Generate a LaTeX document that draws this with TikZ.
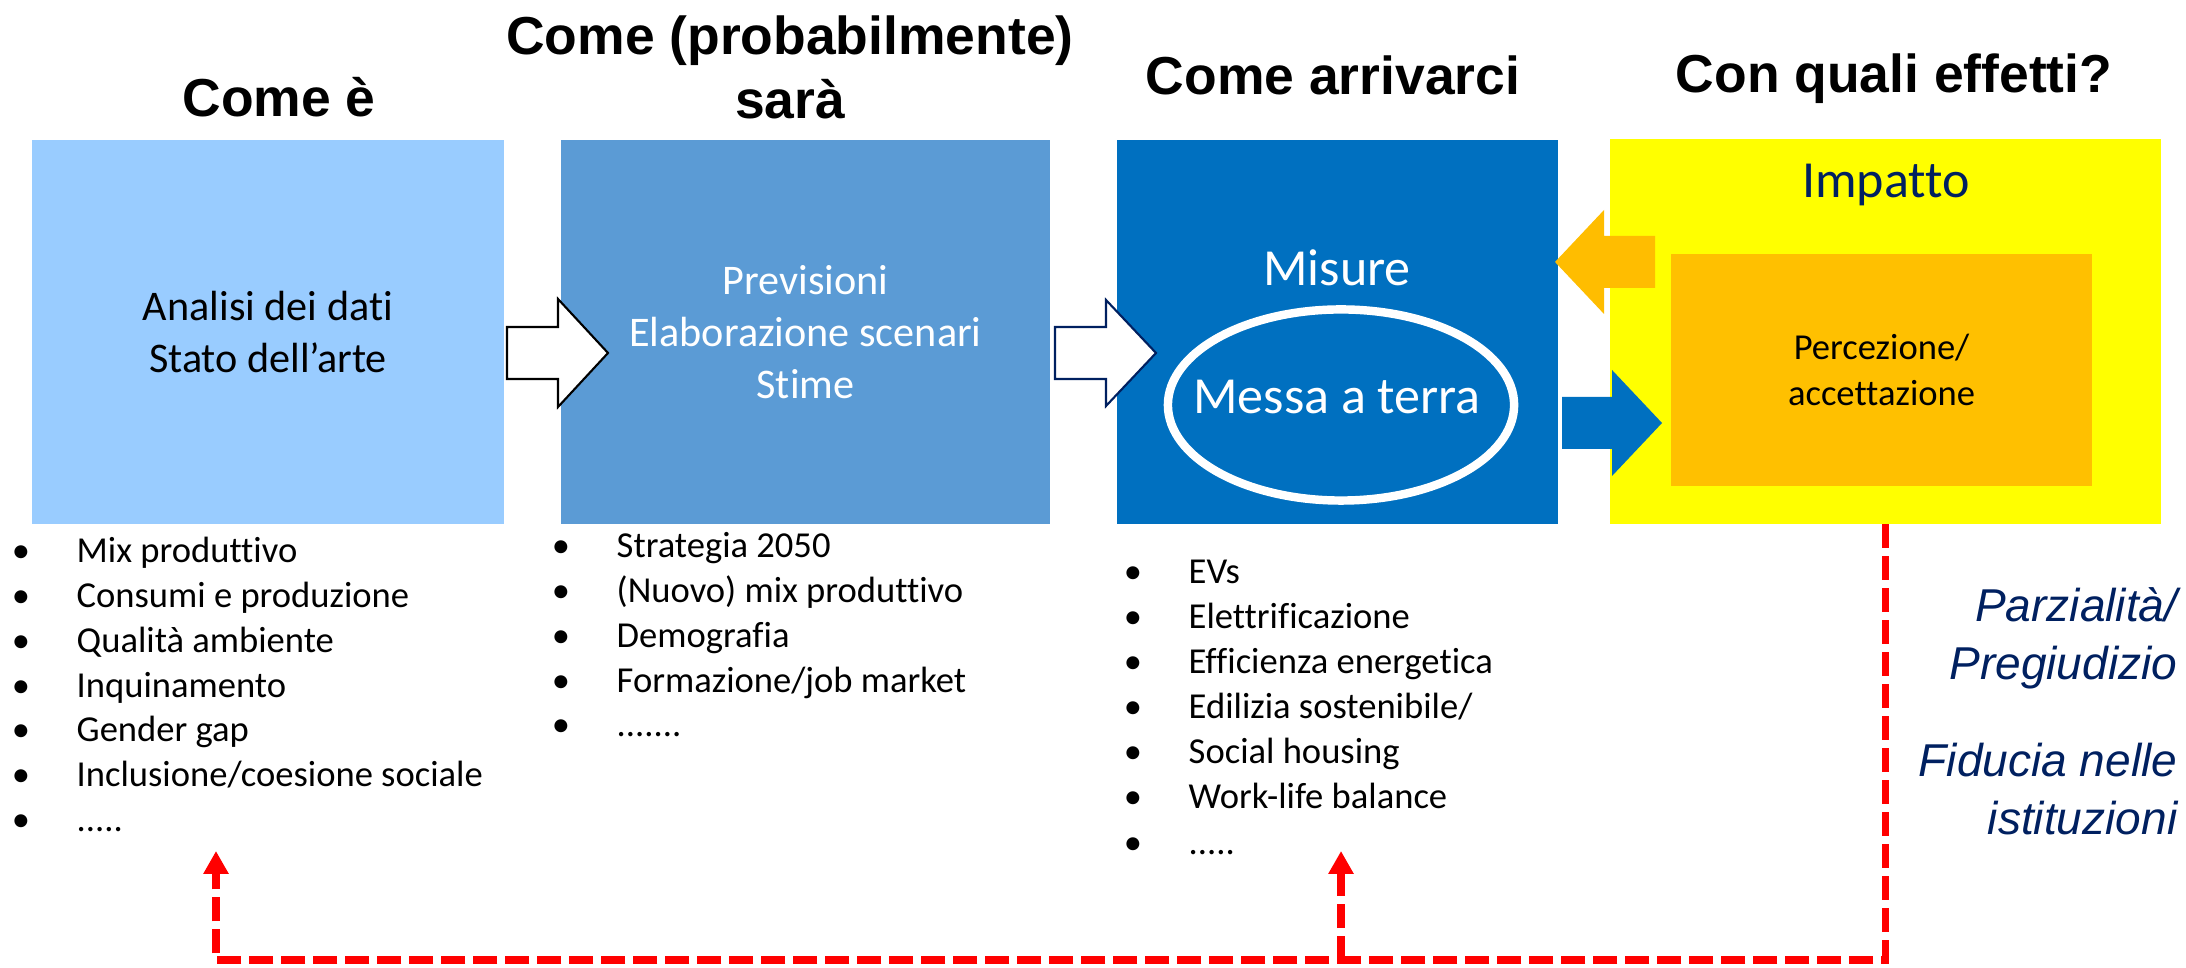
\documentclass[tikz,border=0pt]{standalone}
\usepackage{fontspec}
\setmainfont{Carlito}[Ligatures=NoCommon]
\newfontfamily\headfont{Liberation Sans}
\usetikzlibrary{arrows.meta,shapes.geometric}

\definecolor{nowblue}{HTML}{99CCFF}
\definecolor{nextblue}{HTML}{5B9BD5}
\definecolor{wayblue}{HTML}{0070C0}
\definecolor{effyellow}{HTML}{FFFF00}
\definecolor{effamber}{HTML}{FFC000}
\definecolor{navy}{HTML}{002060}

\begin{document}
\begin{tikzpicture}[x=0.01cm, y=-0.01cm, >={Triangle[length=6.5pt,width=6.8pt]},
  head/.style={font=\headfont\bfseries\fontsize{15.2}{18.2}\selectfont, align=center, inner sep=0pt, anchor=base},
  block/.style={inner sep=0pt, outer sep=0pt, minimum height=3.84cm},
  item/.style={font=\fontsize{10.4}{12.8}\selectfont, inner sep=0pt, anchor=base west},
  dot/.style={font=\fontsize{10.4}{12.8}\selectfont, inner sep=0pt, anchor=base},
  note/.style={font=\headfont\itshape\fontsize{13.1}{16.5}\selectfont, text=navy, align=right, inner sep=0pt, anchor=base east},
  feedback/.style={red, line width=2.1pt, dash pattern=on 6.8pt off 2.3pt}]
  \useasboundingbox (0,0) rectangle (2186,968);

  % headings
  \node[head] (h1) at (279,117) {Come è};
  \node[head] (h2) at (790,119) {Come (probabilmente)\\sarà};
  \node[head] (h3) at (1333,95) {Come arrivarci};
  \node[head] (h4) at (1894,93) {Con quali effetti?};

  % the four blocks
  \node[block, fill=nowblue, minimum width=4.72cm, font=\fontsize{12}{14.8}\selectfont, align=center] (now) at (268,332) {Analisi dei dati\\Stato dell’arte};
  \node[block, fill=nextblue, minimum width=4.89cm, text=white, font=\fontsize{12}{14.8}\selectfont, align=center] (next) at (805.5,332) {Previsioni\\Elaborazione scenari\\Stime};
  \node[block, fill=wayblue, minimum width=4.41cm] (way) at (1337.5,332) {};
  \node[block, fill=effyellow, minimum width=5.51cm, minimum height=3.85cm] (eff) at (1885.5,331.5) {};

  \node[text=white, font=\fontsize{14.8}{17}\selectfont, inner sep=0pt, anchor=base] (misure) at (1337,286) {Misure};
  \node[ellipse, draw=white, line width=2.4pt, minimum width=3.46cm, minimum height=1.91cm, inner sep=0pt] (ground) at (1341,405) {};
  \node[text=white, font=\fontsize{14.8}{17}\selectfont, inner sep=0pt, anchor=base] (groundtxt) at (1337,414) {Messa a terra};

  \node[text=navy, font=\fontsize{14.8}{17}\selectfont, inner sep=0pt, anchor=base] (impatto) at (1886,198) {Impatto};
  \node[fill=effamber, inner sep=0pt, minimum width=4.21cm, minimum height=2.32cm, font=\fontsize{10.4}{12.9}\selectfont, align=center] (perc) at (1881.5,370) {Percezione/\\accettazione};

  % block arrows
  \draw[fill=white, line width=0.6pt] (507,327) -- (558,327) -- (558,299) -- (608,353) -- (558,407) -- (558,379) -- (507,379) -- cycle;
  \draw[fill=white, draw=navy, line width=0.6pt] (1055,327) -- (1106,327) -- (1106,300) -- (1156,353) -- (1106,406) -- (1106,379) -- (1055,379) -- cycle;
  \fill[effamber!95!orange] (1655,236) -- (1604,236) -- (1604,210) -- (1555,262) -- (1604,314) -- (1604,288) -- (1655,288) -- cycle;
  \fill[wayblue] (1562,397) -- (1612,397) -- (1612,370) -- (1662,423) -- (1612,476) -- (1612,449) -- (1562,449) -- cycle;

  % bullet lists
  \foreach \txt [count=\i] in {Mix produttivo, Consumi e produzione, Qualità ambiente, Inquinamento, Gender gap, Inclusione/coesione sociale} {
    \node[dot] (b1-\i) at (21,{518.3+44.7*\i}) {•};
    \node[item] (t1-\i) at (76,{518.3+44.7*\i}) {\txt};
  }
  \node[dot] (b1-7) at (21,831) {•};
  \node[item] (t1-7) at (76,831) {.....};

  \foreach \txt [count=\i] in {Strategia 2050, (Nuovo) mix produttivo, Demografia, Formazione/job market} {
    \node[dot] (b2-\i) at (561,{513.3+44.7*\i}) {•};
    \node[item] (t2-\i) at (616,{513.3+44.7*\i}) {\txt};
  }
  \node[dot] (b2-5) at (561,737) {•};
  \node[item] (t2-5) at (616,737) {.......};

  \foreach \txt [count=\i] in {EVs, Elettrificazione, Efficienza energetica, Edilizia sostenibile/, Social housing, Work-life balance} {
    \node[dot] (b3-\i) at (1133,{539+45*\i}) {•};
    \node[item] (t3-\i) at (1188,{539+45*\i}) {\txt};
  }
  \node[dot] (b3-7) at (1133,854) {•};
  \node[item] (t3-7) at (1188,854) {.....};

  % side notes
  \node[note] (bias) at (2178,680) {Parzialità/\\Pregiudizio};
  \node[note] (trust) at (2178,835) {Fiducia nelle\\istituzioni};

  % feedback loop
  \coordinate (turn) at (1890,960);
  \coordinate (back1) at (216,851);
  \coordinate (back2) at (1341,851);
  \draw[feedback, ->] (eff.south) -- (eff.south |- turn) -| (back1);
  \draw[feedback, ->] (back2 |- turn) -- (back2);
\end{tikzpicture}
\end{document}
